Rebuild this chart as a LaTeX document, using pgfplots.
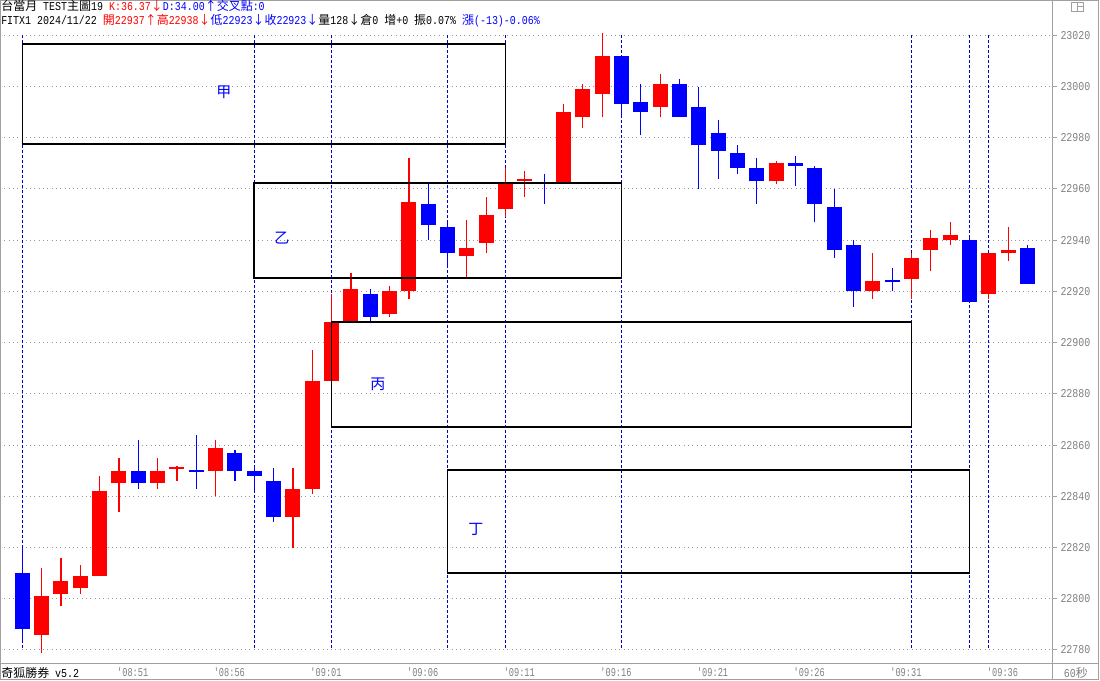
\documentclass[border=0pt]{standalone}
\usepackage{pgfplots}
\pgfplotsset{compat=1.18}
\usepackage{pgfplotstable}
\usepackage{fontspec}
\setmainfont{Liberation Mono}
\newfontfamily\mono[FakeStretch=0.83]{Liberation Mono}
\newfontfamily\monox[FakeStretch=0.72]{Liberation Mono}
\newfontfamily\cjk{Noto Sans CJK TC}
\definecolor{kred}{RGB}{255,0,0}
\definecolor{kblue}{RGB}{0,0,255}
\definecolor{navyd}{RGB}{0,0,200}
\definecolor{axgray}{RGB}{160,160,160}
\definecolor{txtgray}{RGB}{128,128,128}
\definecolor{gridgray}{RGB}{150,150,150}
\newcommand\Hm[1]{{\mono\fontsize{12}{12}\selectfont #1}}
\newcommand\Cj[1]{{\cjk\fontsize{12}{12}\selectfont #1}}
\newcommand\Ar[1]{\makebox[12pt]{\cjk\fontsize{12}{12}\selectfont #1}}
\pgfplotsset{candle/.style={only marks, mark=*, mark size=0pt,
   mark options={draw opacity=0, fill opacity=0}},
   vline/.style={draw=navyd, line width=1.2pt, dash pattern=on 3pt off 2pt, mark=none, forget plot}}

% up (red) candles: index open high low close
\pgfplotstableread{
i o h l c
1 22786 22812 22779 22801
2 22802 22816 22797 22807
3 22804 22813 22802 22809
4 22809 22848 22809 22842
5 22845 22855 22834 22850
7 22845 22855 22843 22850
8 22850.5 22852 22846 22851.5
10 22850 22862 22840 22859
14 22832 22851 22820 22843
15 22843 22897 22841 22885
16 22885 22919 22885 22908
17 22908 22927 22908 22921
19 22911 22922 22910 22920
20 22920 22972 22917 22955
23 22934 22948 22925 22937
24 22939 22957 22935 22950
25 22952 22968 22949 22962
26 22963.2 22967 22957 22964
28 22962 22993 22962 22990
29 22988 23001 22984 22999
30 22997 23021 22988 23012
33 22992 23005 22988 23001
39 22963 22971 22962 22970
44 22920 22935 22917 22924
46 22925 22935 22917 22933
47 22936 22944 22928 22941
48 22940 22947 22938 22942
50 22919 22935 22917 22935
51 22935 22945 22932 22936
}\redtab

% down (blue) candles
\pgfplotstableread{
i o h l c
0 22810 22820 22783 22788
6 22850 22862 22843 22845
9 22850.3 22864 22843 22849.5
11 22857 22858 22846 22850
12 22850 22852 22842 22848
13 22846 22851 22830 22832
18 22919 22921 22908 22910
21 22954 22962 22940 22946
22 22945 22947 22929 22935
27 22962.5 22966 22954 22962
31 23012 23012 22989 22993
32 22994 23001 22981 22990
34 23001 23003 22988 22988
35 22992 23000 22960 22977
36 22982 22987 22964 22975
37 22974 22977 22966 22968
38 22968 22972 22954 22963
40 22970 22973 22961 22969
41 22968 22969 22947 22954
42 22953 22960 22933 22936
43 22938 22940 22914 22920
45 22924.4 22929 22920 22923.6
49 22940 22942 22916 22916
52 22937 22938 22923 22923
}\bluetab

\begin{document}
\begin{tikzpicture}
\begin{axis}[
  scale only axis, width=1053pt, height=663pt,
  xmin=-1.1537, xmax=53.32, ymin=22774.9, ymax=23033.8,
  clip=false,
  axis line style={axgray, line width=1pt},
  ytick={22780,22800,...,23020},
  scaled y ticks=false,
  ytick pos=right, yticklabel pos=right,
  minor y tick num=4,
  tick align=outside,
  major tick length=4pt, minor tick length=1.5pt,
  y tick style={axgray, line width=1pt},
  y tick label style={font=\mono\fontsize{12}{12}\selectfont, text=txtgray,
     /pgf/number format/1000 sep={}, /pgf/number format/assume math mode=true},
  ymajorgrids,
  major grid style={gridgray, line width=1pt, dash pattern=on 1pt off 3.3pt},
  xtick={5,10,...,50},
  xticklabels={'08:51,'08:56,'09:01,'09:06,'09:11,'09:16,'09:21,'09:26,'09:31,'09:36},
  x tick style={draw=none},
  x tick label style={font=\monox\fontsize{12}{12}\selectfont, text=txtgray,
     anchor=base west, inner sep=0pt, xshift=-2pt, yshift=-9.5pt},
]
% vertical dashed marker lines
\addplot[vline] coordinates {(0,23020) (0,22780)};
\addplot[vline] coordinates {(12,23020) (12,22780)};
\addplot[vline] coordinates {(16,23020) (16,22780)};
\addplot[vline] coordinates {(22,23020) (22,22780)};
\addplot[vline] coordinates {(25,23020) (25,22780)};
\addplot[vline] coordinates {(31,23020) (31,22780)};
\addplot[vline] coordinates {(46,23020) (46,22780)};
\addplot[vline] coordinates {(49,23020) (49,22780)};
\addplot[vline] coordinates {(50,23020) (50,22780)};
% wicks
\addplot[candle, error bars/.cd, y dir=plus, y explicit, error mark=none,
  error bar style={line width=1.2pt, kred}]
  table[x=i, y=l, y error plus expr=\thisrow{h}-\thisrow{l}] {\redtab};
\addplot[candle, error bars/.cd, y dir=plus, y explicit, error mark=none,
  error bar style={line width=1.2pt, kblue}]
  table[x=i, y=l, y error plus expr=\thisrow{h}-\thisrow{l}] {\bluetab};
% bodies
\addplot[candle, error bars/.cd, y dir=plus, y explicit, error mark=none,
  error bar style={line width=15pt, kred}]
  table[x=i, y=o, y error plus expr=\thisrow{c}-\thisrow{o}] {\redtab};
\addplot[candle, error bars/.cd, y dir=plus, y explicit, error mark=none,
  error bar style={line width=15pt, kblue}]
  table[x=i, y=c, y error plus expr=\thisrow{o}-\thisrow{c}] {\bluetab};
% boxes
\draw[black, line width=1.6pt] (axis cs:0,23016.6) rectangle (axis cs:25,22977.6);
\draw[black, line width=1.6pt] (axis cs:12,22962.3) rectangle (axis cs:31,22925.2);
\draw[black, line width=1.6pt] (axis cs:16,22908.1) rectangle (axis cs:46,22867.1);
\draw[black, line width=1.6pt] (axis cs:22,22850.3) rectangle (axis cs:49,22810.1);
\node[text=kblue, inner sep=0pt, font=\cjk\fontsize{15}{15}\selectfont] at (axis cs:10.43,22997.9) {甲};
\node[text=kblue, inner sep=0pt, font=\cjk\fontsize{15}{15}\selectfont] at (axis cs:13.43,22940.9) {乙};
\node[text=kblue, inner sep=0pt, font=\cjk\fontsize{15}{15}\selectfont] at (axis cs:18.40,22883.9) {丙};
\node[text=kblue, inner sep=0pt, font=\cjk\fontsize{15}{15}\selectfont] at (axis cs:23.47,22826.9) {丁};
% frame
\draw[axgray, line width=1pt] (axis description cs:0.000475,0.99925) -- (axis description cs:1.04321,0.99925)
   -- (axis description cs:1.04321,-0.02489) -- (axis description cs:0.000475,-0.02489) -- cycle;
\draw[axgray, line width=1pt] (axis description cs:1,0) -- (axis description cs:1.04321,0);
\draw[axgray, line width=1pt] (axis description cs:1,0) -- (axis description cs:1,-0.02489);
% top-right icon
\draw[axgray, line width=0.8pt] (axis description cs:1.01709,0.99698) rectangle (axis description cs:1.02849,0.98341);
\draw[axgray, line width=0.8pt] (axis description cs:1.02336,0.99698) -- (axis description cs:1.02336,0.98341);
\draw[axgray, line width=0.8pt] (axis description cs:1.02336,0.98989) -- (axis description cs:1.02849,0.98989);
% header
\node[anchor=base west, inner sep=0pt] at (axis description cs:0.001,0.98341)
  {\Cj{台當月}\Hm{ TEST}\Cj{主圖}\Hm{19 }\textcolor{kred}{\Hm{K:36.37}\Ar{↓}}\textcolor{kblue}{\Hm{D:34.00}\Ar{↑}\Cj{交叉點}\Hm{:0}}};
\node[anchor=base west, inner sep=0pt] at (axis description cs:0.001,0.96229)
  {\Hm{FITX1 2024/11/22 }\textcolor{kred}{\Cj{開}\Hm{22937}\Ar{↑}\Cj{高}\Hm{22938}\Ar{↓}}\textcolor{kblue}{\Cj{低}\Hm{22923}\Ar{↓}\Cj{收}\Hm{22923}\Ar{↓}}\Cj{量}\Hm{128}\Ar{↓}\Cj{倉}\Hm{0 }\Cj{增}\Hm{+0 }\Cj{振}\Hm{0.07\% }\textcolor{kblue}{\Cj{漲}\Hm{(-13)-0.06\%}}};
% footer
\node[anchor=base west, inner sep=0pt] at (axis description cs:0.001,-0.02112) {\Cj{奇狐勝券}\Hm{ v5.2}};
\node[anchor=base, inner sep=0pt, text=txtgray] at (axis description cs:1.02184,-0.02112) {\Hm{60}\Cj{秒}};
\end{axis}
\pgfresetboundingbox
\useasboundingbox (0,-17pt) rectangle (1100pt,663pt);
\end{tikzpicture}
\end{document}
